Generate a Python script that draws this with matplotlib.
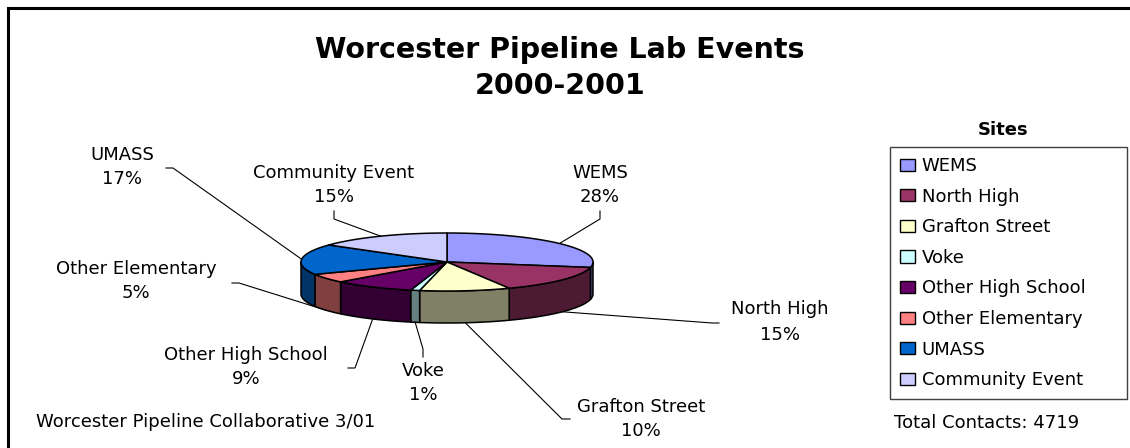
import matplotlib
matplotlib.use("Agg")
import matplotlib.pyplot as plt
import matplotlib.colors as mcolors
from matplotlib.patches import Polygon, Rectangle, Patch
import numpy as np

# ---------------- data ----------------
categories = ["WEMS", "North High", "Grafton Street", "Voke",
              "Other High School", "Other Elementary", "UMASS", "Community Event"]
shares = [28, 15, 10, 1, 9, 5, 17, 15]
top_colors = ["#9999FF", "#993366", "#FFFFCC", "#CCFFFF",
              "#660066", "#FF8080", "#0066CC", "#CCCCFF"]
title_lines = ["Worcester Pipeline Lab Events", "2000-2001"]
legend_title = "Sites"
footer_left = "Worcester Pipeline Collaborative 3/01"
footer_right = "Total Contacts: 4719"

# ---------------- layout (pixels) ----------------
W, H = 1130, 448
cx, cy, rx, ry, depth = 447, 262, 146, 29, 32
label_pos = [(600, 185), (780, 322), (641, 419), (423, 383),
             (246, 367), (136, 281), (122, 167), (334, 185)]
# attach point near the label and the short elbow offset
leader_attach = [(600, 211, 0, 8), (719, 323, -7, 0), (570, 419, -8, 0), (423, 357, 0, -8),
                 (348, 368, 7, 0), (232, 283, 7, 0), (166, 168, 7, 0), (334, 211, 0, 8)]

fig = plt.figure(figsize=(W / 100, H / 100), dpi=100)
fig.patch.set_facecolor("white")
ax = fig.add_axes([0, 0, 1, 1])
ax.set_xlim(0, W)
ax.set_ylim(H, 0)
ax.axis("off")

# outer frame (right/bottom edges fall outside the picture)
fig.patches.append(Rectangle((8 / W, -0.1), 1.2, (1 - 8 / H) + 0.1,
                             transform=fig.transFigure, fill=False, lw=2.2, ec="black"))


def ell(theta_deg, dz=0.0):
    t = np.radians(theta_deg)
    return cx + rx * np.cos(t), cy - ry * np.sin(t) + dz


def darker(c, f=0.5):
    return tuple(v * f for v in mcolors.to_rgb(c))


vals = np.array(shares, dtype=float)
frac = vals / vals.sum()
ends = 90 - 360 * np.cumsum(frac)
starts = np.concatenate([[90.0], ends[:-1]])

# side walls (front half only)
for s, e, c in zip(starts, ends, top_colors):
    lo, hi = max(e, -180.0), min(s, 0.0)
    if hi > lo:
        th = np.linspace(hi, lo, 60)
        tx, ty = ell(th)
        bx, by = ell(th[::-1], depth)
        poly = np.column_stack([np.r_[tx, bx], np.r_[ty, by]])
        ax.add_patch(Polygon(poly, closed=True, fc=darker(c), ec="black", lw=1.1,
                             joinstyle="round", zorder=2))

# top faces
for s, e, c in zip(starts, ends, top_colors):
    th = np.linspace(s, e, 80)
    tx, ty = ell(th)
    poly = np.column_stack([np.r_[cx, tx], np.r_[cy, ty]])
    ax.add_patch(Polygon(poly, closed=True, fc=c, ec="black", lw=1.1,
                         joinstyle="round", zorder=3))

# labels + leader lines
for i, (cat, v) in enumerate(zip(categories, shares)):
    mid = (starts[i] + ends[i]) / 2
    ax_, ay_ = ell(mid)
    if np.sin(np.radians(mid)) < 0:
        ay_ += depth
    px, py, dx, dy = leader_attach[i]
    ax.plot([px, px + dx, ax_], [py, py + dy, ay_], color="black", lw=0.8,
            solid_joinstyle="miter", zorder=4)
    lx, ly = label_pos[i]
    ax.text(lx, ly, f"{cat}\n{v}%", ha="center", va="center", fontsize=13,
            linespacing=1.5, color="black", zorder=5)

# title
ax.text(560, 50, title_lines[0], ha="center", va="center", fontsize=20.5,
        fontweight="bold", color="black")
ax.text(560, 86, title_lines[1], ha="center", va="center", fontsize=20.5,
        fontweight="bold", color="black")

# legend
ax.text(1003, 130, legend_title, ha="center", va="center", fontsize=13,
        fontweight="bold", color="black")
handles = [Patch(facecolor=c, edgecolor="black", linewidth=1.0) for c in top_colors]
leg = ax.legend(handles, categories, loc="upper left",
                bbox_to_anchor=(890 / W, 1 - 399 / H, 237 / W, 252 / H),
                bbox_transform=fig.transFigure, mode="expand", borderaxespad=0,
                frameon=True, fancybox=False, shadow=False, framealpha=1,
                fontsize=13, handlelength=0.85, handleheight=0.65,
                handletextpad=0.35, labelspacing=0.7, borderpad=0.55,
                edgecolor="#404040")
leg.get_frame().set_linewidth(1.0)

# footers
ax.text(206, 422, footer_left, ha="center", va="center", fontsize=13, color="black")
ax.text(987, 423, footer_right, ha="center", va="center", fontsize=13, color="black")

fig.savefig("out.png", dpi=100, facecolor="white")
